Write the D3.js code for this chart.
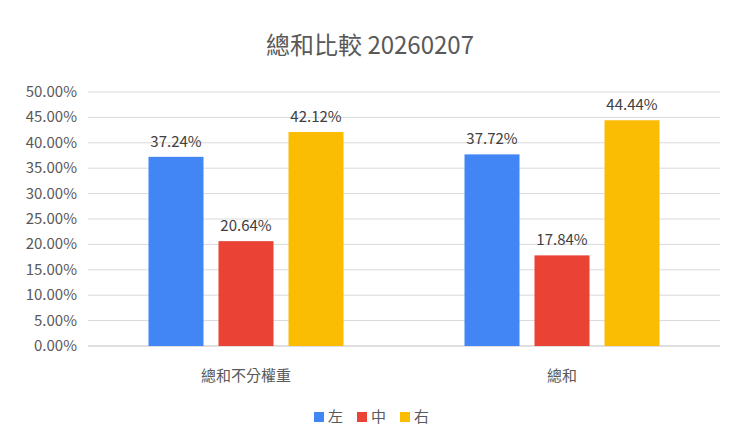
<!DOCTYPE html>
<html><head><meta charset="utf-8">
<script src="https://cdn.jsdelivr.net/npm/d3@7"></script>
<style>body{margin:0;background:#fff}</style></head>
<body><svg id="c" width="740" height="447"></svg>
<script>
const categories = ["總和不分權重", "總和"];
const seriesNames = ["左", "中", "右"];
const seriesColors = ["#4285F4", "#EA4335", "#FBBC04"];
const values = [[37.24, 20.64, 42.12], [37.72, 17.84, 44.44]];
const ticks = [0,5,10,15,20,25,30,35,40,45,50];

const svg = d3.select("#c");
const font = "'Noto Sans CJK TC', 'Liberation Sans', Arial, sans-serif";
const L=88, R=720, T=92, B=346;
const x = d3.scaleBand().domain(categories).range([L,R]);
const y = d3.scaleLinear().domain([0,50]).range([B,T]);

svg.append("text").attr("x",370).attr("y",54).attr("text-anchor","middle")
  .attr("font-family",font).attr("font-size",24).attr("fill","#595959").text("總和比較 20260207");

ticks.forEach(t=>{
  svg.append("line").attr("x1",L).attr("x2",R).attr("y1",y(t)).attr("y2",y(t))
    .attr("stroke", t===0?"#bfbfbf":"#d9d9d9").attr("stroke-width",1);
  svg.append("text").attr("x",77).attr("y",y(t)+5).attr("text-anchor","end")
    .attr("font-family",font).attr("font-size",15).attr("fill","#595959").text(t.toFixed(2)+"%");
});

const bw=55, step=70;
categories.forEach((c,ci)=>{
  const cx = x(c)+x.bandwidth()/2;
  values[ci].forEach((v,si)=>{
    const bx = cx + (si-1)*step - bw/2;
    svg.append("rect").attr("x",bx).attr("y",y(v)).attr("width",bw).attr("height",B-y(v)).attr("fill",seriesColors[si]);
    svg.append("text").attr("x",bx+bw/2).attr("y",y(v)-10).attr("text-anchor","middle")
      .attr("font-family",font).attr("font-size",15).attr("fill","#404040").text(v.toFixed(2)+"%");
  });
  svg.append("text").attr("x",cx).attr("y",381).attr("text-anchor","middle")
    .attr("font-family",font).attr("font-size",15).attr("fill","#595959").text(c);
});

const lx=[314,357,400];
seriesNames.forEach((n,i)=>{
  svg.append("rect").attr("x",lx[i]).attr("y",412).attr("width",10).attr("height",10).attr("fill",seriesColors[i]);
  svg.append("text").attr("x",lx[i]+14).attr("y",422).attr("font-family",font).attr("font-size",15).attr("fill","#595959").text(n);
});
</script></body></html>
